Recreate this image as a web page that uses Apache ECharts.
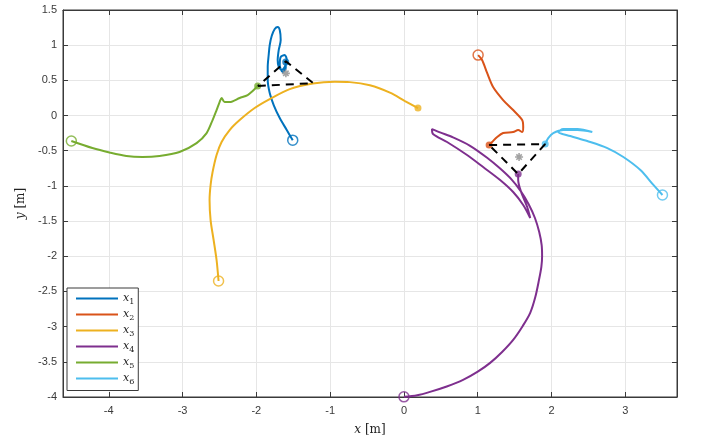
<!DOCTYPE html>
<html><head><meta charset="utf-8">
<script src="https://cdn.jsdelivr.net/npm/echarts@6/dist/echarts.min.js"></script>
<style>html,body{margin:0;padding:0;background:#fff}#c{width:706px;height:443px}</style>
</head><body><div id="c"></div>
<script>
// ---- data ----
const seriesNames = ['x1', 'x2', 'x3', 'x4', 'x5', 'x6'];
const seriesSubs = ['1', '2', '3', '4', '5', '6'];
const seriesColors = ['#0072BD', '#D95319', '#EDB120', '#7E2F8E', '#77AC30', '#4DBEEE'];

const x1 = [[-1.507,-0.35],[-1.588,-0.205],[-1.683,-0.036],[-1.765,0.149],[-1.819,0.32],[-1.846,0.504],[-1.846,0.689],[-1.833,0.86],[-1.819,1.002],[-1.792,1.13],[-1.751,1.229],[-1.711,1.258],[-1.683,1.215],[-1.67,1.074],[-1.697,0.931],[-1.711,0.789],[-1.697,0.69],[-1.656,0.647],[-1.616,0.69],[-1.588,0.789],[-1.616,0.86],[-1.67,0.832],[-1.683,0.718],[-1.643,0.619],[-1.602,0.676],[-1.602,0.761]];
const x2 = [[1.005,0.859],[1.059,0.79],[1.127,0.605],[1.208,0.405],[1.344,0.22],[1.48,0.078],[1.602,-0.064],[1.616,-0.163],[1.602,-0.234],[1.548,-0.206],[1.48,-0.234],[1.344,-0.249],[1.263,-0.305],[1.195,-0.376],[1.154,-0.419]];
const x3 = [[-2.512,-2.352],[-2.539,-2.053],[-2.579,-1.769],[-2.62,-1.485],[-2.634,-1.2],[-2.62,-0.987],[-2.593,-0.803],[-2.539,-0.561],[-2.471,-0.376],[-2.362,-0.206],[-2.226,-0.064],[-2.023,0.107],[-1.819,0.234],[-1.548,0.376],[-1.235,0.455],[-0.937,0.48],[-0.733,0.475],[-0.462,0.43],[-0.19,0.325],[0.014,0.206],[0.19,0.107]];
const x4 = [[0,-3.998],[0.18,-3.975],[0.353,-3.927],[0.58,-3.85],[0.801,-3.757],[1.0,-3.64],[1.168,-3.515],[1.33,-3.36],[1.48,-3.188],[1.61,-2.99],[1.711,-2.804],[1.78,-2.58],[1.83,-2.336],[1.862,-2.15],[1.872,-2.0],[1.866,-1.841],[1.833,-1.656],[1.775,-1.456],[1.69,-1.26],[1.58,-1.07],[1.46,-0.91],[1.3,-0.75],[1.127,-0.6],[0.896,-0.43],[0.665,-0.31],[0.489,-0.24],[0.38,-0.192],[0.394,-0.263],[0.584,-0.376],[0.855,-0.561],[1.073,-0.732],[1.303,-0.916],[1.48,-1.087],[1.616,-1.271],[1.711,-1.456],[1.67,-1.3],[1.588,-1.087],[1.548,-0.916],[1.548,-0.831]];
const x5 = [[-4.507,-0.362],[-4.222,-0.462],[-3.991,-0.525],[-3.761,-0.575],[-3.543,-0.589],[-3.313,-0.575],[-3.041,-0.518],[-2.81,-0.391],[-2.674,-0.249],[-2.593,-0.064],[-2.539,0.078],[-2.498,0.192],[-2.471,0.249],[-2.43,0.192],[-2.362,0.192],[-2.226,0.249],[-2.118,0.291],[-2.05,0.348],[-1.982,0.419]];
const x6 = [[3.503,-1.129],[3.38,-0.986],[3.204,-0.774],[2.973,-0.589],[2.756,-0.462],[2.484,-0.362],[2.254,-0.291],[2.091,-0.234],[2.159,-0.192],[2.349,-0.192],[2.552,-0.234],[2.349,-0.206],[2.159,-0.206],[2.023,-0.249],[1.955,-0.32],[1.914,-0.405]];
const trajectories = [x1, x2, x3, x4, x5, x6];

const formationA = [[-1.98,0.42],[-1.23,0.46],[-1.6,0.77]];
const formationB = [[1.154,-0.419],[1.914,-0.405],[1.548,-0.831]];
const centers = [[-1.6,0.6],[1.56,-0.59]];

const xMin = -4.62, xMax = 3.7;
const yMin = -4, yMax = 1.5, yStep = 0.5;

// ---- chart ----
const chart = echarts.init(document.getElementById('c'), null, {renderer: 'canvas'});
const axisColor = '#3a3a3a';
const gridColor = '#e6e6e6';
const labelFont = {fontFamily: 'Liberation Sans', fontSize: 11, color: '#3a3a3a'};

const series = [];
trajectories.forEach((d, i) => {
  series.push({
    name: seriesNames[i], type: 'line', data: d, symbol: 'none',
    lineStyle: {color: seriesColors[i], width: 2}, itemStyle: {color: seriesColors[i]},
    smooth: 0.3, z: 3, silent: true
  });
});
trajectories.forEach((d, i) => {
  series.push({
    type: 'scatter', data: [d[0]], symbol: 'circle', symbolSize: 10,
    itemStyle: {color: 'rgba(255,255,255,0)', borderColor: seriesColors[i], borderWidth: 1.5}, z: 4, silent: true
  });
  series.push({
    type: 'scatter', data: [d[d.length - 1]], symbol: 'circle', symbolSize: 7,
    itemStyle: {color: seriesColors[i]}, z: 4, silent: true
  });
});
[formationA, formationB].forEach(f => {
  series.push({
    type: 'line', data: f.concat([f[0]]), symbol: 'none',
    lineStyle: {color: '#000', width: 2, type: [8, 6]}, z: 5, silent: true
  });
});
series.push({
  type: 'scatter', data: centers,
  symbol: 'path://M5 0 L5 10 M0 5 L10 5 M1.6 1.6 L8.4 8.4 M1.6 8.4 L8.4 1.6',
  symbolSize: 8, itemStyle: {color: 'rgba(0,0,0,0)', borderColor: '#8c8c8c', borderWidth: 1.6}, z: 6, silent: true
});

const option = {
  animation: false,
  backgroundColor: '#fff',
  grid: {left: 63, right: 29, top: 10, bottom: 46, show: true, borderColor: axisColor, borderWidth: 1, backgroundColor: '#fff'},
  legend: {
    data: seriesNames, orient: 'vertical', left: 67, top: 288,
    padding: [5, 4, 5, 8], itemWidth: 42, itemHeight: 12, itemGap: 3.5,
    backgroundColor: '#fff', borderColor: '#3a3a3a', borderWidth: 1,
    itemStyle: {opacity: 0},
    formatter: name => '{i|x}{s|' + seriesSubs[seriesNames.indexOf(name)] + '}',
    textStyle: {
      rich: {
        i: {fontFamily: 'DejaVu Serif', fontStyle: 'italic', fontSize: 11, color: '#222'},
        s: {fontFamily: 'DejaVu Serif', fontSize: 8, color: '#222', verticalAlign: 'bottom', padding: [6, 0, 0, 0]}
      }
    }
  },
  xAxis: [{
    type: 'value', min: xMin, max: xMax, splitNumber: 8,
    name: '{i|x} [m]', nameLocation: 'middle', nameGap: 27,
    nameTextStyle: {fontFamily: 'DejaVu Serif', fontSize: 12, color: '#222', rich: {i: {fontFamily: 'DejaVu Serif', fontStyle: 'italic', fontSize: 12, color: '#222'}}},
    axisLine: {show: true, onZero: false, lineStyle: {color: axisColor}},
    axisTick: {show: true, inside: true, length: 5, lineStyle: {color: axisColor}},
    axisLabel: Object.assign({margin: 8, showMinLabel: false, showMaxLabel: false}, labelFont),
    splitLine: {show: true, lineStyle: {color: gridColor}}
  }, {
    type: 'value', position: 'top', min: xMin, max: xMax, splitNumber: 8,
    axisLine: {show: true, onZero: false, lineStyle: {color: axisColor}},
    axisTick: {show: true, inside: true, length: 5, lineStyle: {color: axisColor}},
    axisLabel: {show: false}, splitLine: {show: false}
  }],
  yAxis: [{
    type: 'value', min: yMin, max: yMax, interval: yStep,
    name: '{i|y} [m]', nameLocation: 'middle', nameGap: 36,
    nameTextStyle: {fontFamily: 'DejaVu Serif', fontSize: 12, color: '#222', rich: {i: {fontFamily: 'DejaVu Serif', fontStyle: 'italic', fontSize: 12, color: '#222'}}},
    axisLine: {show: true, onZero: false, lineStyle: {color: axisColor}},
    axisTick: {show: true, inside: true, length: 5, lineStyle: {color: axisColor}},
    axisLabel: Object.assign({margin: 6}, labelFont),
    splitLine: {show: true, lineStyle: {color: gridColor}}
  }, {
    type: 'value', position: 'right', min: yMin, max: yMax, interval: yStep,
    axisLine: {show: true, onZero: false, lineStyle: {color: axisColor}},
    axisTick: {show: true, inside: true, length: 5, lineStyle: {color: axisColor}},
    axisLabel: {show: false}, splitLine: {show: false}
  }],
  series: series
};
chart.setOption(option);
</script>
</body></html>
